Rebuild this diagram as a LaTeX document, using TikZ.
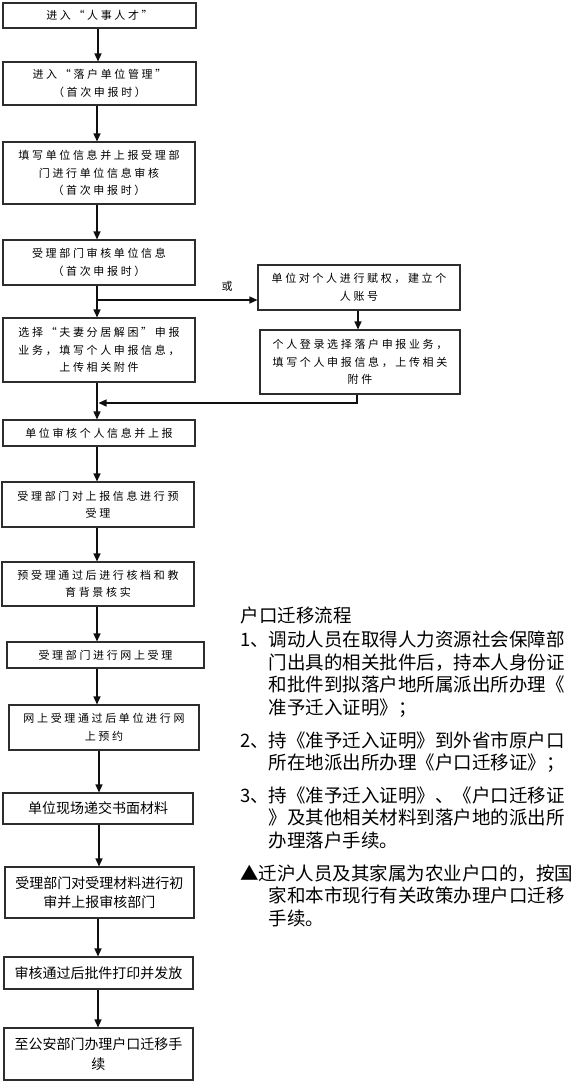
\documentclass[tikz,border=0pt]{standalone}
\usepackage{fontspec}
\setmainfont{Noto Sans CJK SC}
\newfontfamily\boxfont[LetterSpace=24]{Noto Sans CJK SC}
\newfontfamily\cjk{Noto Sans CJK SC}
\usetikzlibrary{arrows.meta}
\tikzstyle{every path}=[line width=1.1pt]
\definecolor{boxline}{RGB}{45,45,45}
\definecolor{flowline}{RGB}{15,15,15}
\tikzstyle{stepbox}=[draw=boxline, inner sep=0pt, align=center, minimum width=192pt,
    font=\boxfont\fontsize{11}{17.5}\selectfont]
\tikzstyle{bigbox}=[stepbox, font=\cjk\fontsize{14}{19.5}\selectfont]
\tikzstyle{flow}=[draw=flowline, line width=1.3pt, -{Triangle[width=7pt,length=8pt]}]
\newcommand{\noteitem}[3]{\makebox[28pt][l]{#1}\parbox[t]{320pt}{\strut\hspace*{#2}#3\strut}\par}

\begin{document}
\begin{tikzpicture}[x=1pt, y=-1pt]
            \useasboundingbox (0,0) rectangle (576,1082);

            \node[stepbox, minimum width=193pt, minimum height=25pt] (enter) at (99.5,15.5) {进入“人事人才”};
            \node[stepbox, minimum width=193pt, minimum height=43pt] (unitmgr) at (99.5,83.5) {进入“落户单位管理”\\（首次申报时）};
            \node[stepbox, minimum height=62pt] (unitinfo) at (99,173) {填写单位信息并上报受理部\\门进行单位信息审核\\（首次申报时）};
            \node[stepbox, minimum height=45pt] (unitcheck) at (99,262.5) {受理部门审核单位信息\\（首次申报时）};
            \node[stepbox, minimum height=64pt] (spouse) at (99,350) {选择“夫妻分居解困”申报\\业务，填写个人申报信息，\\上传相关附件};
            \node[stepbox, minimum width=202pt, minimum height=45pt] (grant) at (359,287.5) {单位对个人进行赋权，建立个\\人账号};
            \node[stepbox, minimum width=200pt, minimum height=64pt] (login) at (360,362) {个人登录选择落户申报业务，\\填写个人申报信息，上传相关\\附件};
            \node[stepbox, minimum height=26pt] (personal) at (99,433) {单位审核个人信息并上报};
            \node[stepbox, minimum height=45pt] (preaccept) at (98,504.5) {受理部门对上报信息进行预\\受理};
            \node[stepbox, minimum height=44pt] (archive) at (98,584) {预受理通过后进行核档和教\\育背景核实};
            \node[stepbox, minimum width=197pt, minimum height=26pt] (online) at (105.5,655) {受理部门进行网上受理};
            \node[stepbox, minimum width=190pt, minimum height=45pt] (booking) at (104,727.5) {网上受理通过后单位进行网\\上预约};
            \node[bigbox, minimum width=190pt, minimum height=31pt] (submit) at (98,808.5) {单位现场递交书面材料};
            \node[bigbox, minimum width=189pt, minimum height=51pt] (review) at (99.5,892.5) {受理部门对受理材料进行初\\审并上报审核部门};
            \node[bigbox, minimum width=189pt, minimum height=32pt] (issue) at (98.5,973) {审核通过后批件打印并发放};
            \node[bigbox, minimum width=189pt, minimum height=52pt] (police) at (98.5,1054) {至公安部门办理户口迁移手\\续};

            \node[font=\boxfont\fontsize{11}{13}\selectfont] (orlabel) at (227,286) {或};

            \coordinate (fork) at (97,300);
            \coordinate (join) at (98.5,403);

            \draw[flow] (enter.south -| 98,0) -- (unitmgr.north -| 98,0);
            \draw[flow] (unitmgr.south -| 97,0) -- (unitinfo.north -| 97,0);
            \draw[flow] (unitinfo.south -| 97,0) -- (unitcheck.north -| 97,0);
            \draw[flow] (unitcheck.south -| fork) -- (spouse.north -| fork);
            \draw[flow] (fork) -- (fork -| grant.west);
            \draw[flow] (grant.south -| 358,0) -- (login.north -| 358,0);
            \draw[flow] (login.south -| 357,0) |- (join);
            \draw[flow] (spouse.south -| fork) -- (personal.north -| fork);
            \draw[flow] (personal.south -| 97,0) -- (preaccept.north -| 97,0);
            \draw[flow] (preaccept.south -| 97,0) -- (archive.north -| 97,0);
            \draw[flow] (archive.south -| 97,0) -- (online.north -| 97,0);
            \draw[flow] (online.south -| 97,0) -- (booking.north -| 97,0);
            \draw[flow] (booking.south -| 99,0) -- (submit.north -| 99,0);
            \draw[flow] (submit.south -| 99,0) -- (review.north -| 99,0);
            \draw[flow] (review.south -| 98,0) -- (issue.north -| 98,0);
            \draw[flow] (issue.south -| 98,0) -- (police.north -| 98,0);

            \node[anchor=north west, inner sep=0pt, text width=348pt,
                font=\cjk\fontsize{18.5}{22.6}\selectfont] (notes) at (240,606) {%
                \parindent=0pt\parskip=10pt\lineskip=0pt
                户口迁移流程\par\vspace{-8pt}
                \noteitem{1、}{0pt}{调动人员在取得人力资源社会保障部\\门出具的相关批件后，持本人身份证\\和批件到拟落户地所属派出所办理《\\准予迁入证明》；}
                \noteitem{2、}{0pt}{持《准予迁入证明》到外省市原户口\\所在地派出所办理《户口迁移证》；}
                \noteitem{3、}{0pt}{持《准予迁入证明》、《户口迁移证\\》及其他相关材料到落户地的派出所\\办理落户手续。}
                \noteitem{▲}{-10pt}{迁沪人员及其家属为农业户口的，按国\\家和本市现行有关政策办理户口迁移\\手续。}};
        \end{tikzpicture}
\end{document}
